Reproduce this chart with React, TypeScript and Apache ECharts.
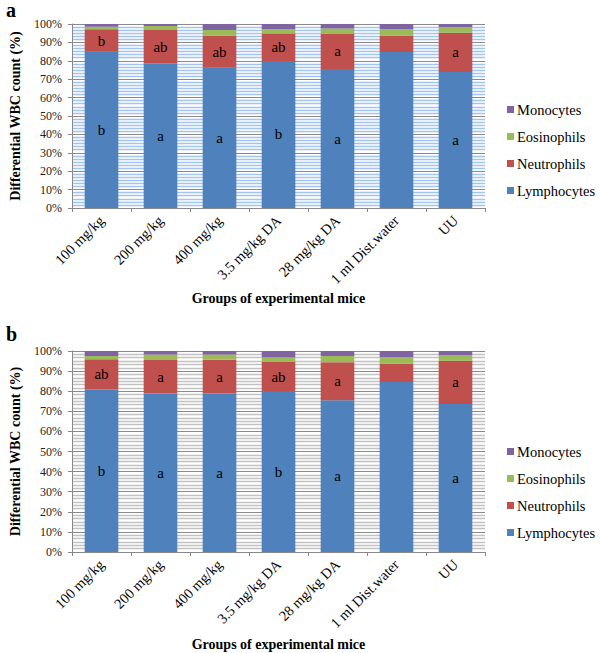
import React, { useEffect, useRef } from "react";
import * as echarts from "echarts";

const categories = ["100 mg/kg", "200 mg/kg", "400 mg/kg", "3.5 mg/kg DA", "28 mg/kg DA", "1 ml Dist.water", "UU"];
const legendOrder = ["Monocytes", "Eosinophils", "Neutrophils", "Lymphocytes"];
const yTickFormat = "{value}%";

// Panel a
const aLymph = [84.9, 78.6, 76.4, 79.9, 75.5, 84.8, 73.9];
const aNeutro = [12.2, 18.1, 17.2, 15.0, 19.2, 8.8, 21.4];
const aEos = [1.4, 2.2, 3.1, 2.2, 2.9, 3.5, 3.1];
const aMono = [1.5, 1.1, 3.3, 2.9, 2.4, 2.9, 1.6];
const aLymphLetters = ["b", "a", "a", "b", "a", "", "a"];
const aNeutroLetters = ["b", "ab", "ab", "ab", "a", "", "a"];

// Panel b
const bLymph = [80.9, 78.8, 78.8, 79.8, 75.5, 84.6, 73.6];
const bNeutro = [15.0, 16.7, 16.9, 14.7, 18.9, 9.1, 21.6];
const bEos = [1.6, 2.7, 2.5, 2.4, 3.1, 3.3, 2.8];
const bMono = [2.5, 1.8, 1.8, 3.1, 2.5, 3.0, 2.0];
const bLymphLetters = ["b", "a", "a", "b", "a", "", "a"];
const bNeutroLetters = ["ab", "a", "a", "ab", "a", "", "a"];

const colors: Record<string, string> = {
  Lymphocytes: "#4f81bd",
  Neutrophils: "#c0504d",
  Eosinophils: "#9bbb59",
  Monocytes: "#8064a2",
};

const FONT = "serif";

export default function App() {
  const ref = useRef<HTMLDivElement>(null);
  useEffect(() => {
    if (!ref.current) return;
    const chart = echarts.init(ref.current, undefined, { renderer: "svg" });

    const grids = [
      { left: 67, top: 24, width: 418, height: 184 },
      { left: 67, top: 351, width: 418, height: 201 },
    ];
    const stripeColors = ["#a4c4f0", "#c2c2c2"];

    const xAxes = [0, 1].map((i) => ({
      type: "category",
      gridIndex: i,
      data: categories,
      name: "Groups of experimental mice",
      nameLocation: "middle",
      nameGap: i === 0 ? 90 : 92,
      nameTextStyle: { fontFamily: FONT, fontWeight: "bold", fontSize: 14, color: "#000", verticalAlign: "middle" },
      axisLine: { show: true, lineStyle: { color: "#888", width: 1 } },
      axisTick: { show: true, length: 4, lineStyle: { color: "#888" } },
      axisLabel: { rotate: 45, fontFamily: FONT, fontSize: 14.5, color: "#000", margin: 10, interval: 0 },
    }));

    const yAxes = [0, 1].map((i) => ({
      type: "value",
      gridIndex: i,
      min: 0,
      max: 100,
      interval: 10,
      name: "Differential WBC count (%)",
      nameLocation: "middle",
      nameGap: 57,
      nameTextStyle: { fontFamily: FONT, fontWeight: "bold", fontSize: 14, color: "#000", verticalAlign: "middle" },
      axisLine: { show: true, lineStyle: { color: "#888", width: 1 } },
      axisTick: { show: true, length: 4, lineStyle: { color: "#888" } },
      axisLabel: { formatter: yTickFormat, fontFamily: FONT, fontSize: 12, color: "#222", margin: 10 },
      splitLine: { show: true, lineStyle: { color: "#8a8a8a", width: 1 } },
      minorTick: { show: false, splitNumber: 6 },
      minorSplitLine: { show: true, lineStyle: { color: stripeColors[i], width: 1.3 } },
    }));

    const mk = (name: string, data: number[], idx: number, letters?: string[]) => ({
      name,
      type: "bar",
      stack: "s" + idx,
      xAxisIndex: idx,
      yAxisIndex: idx,
      barWidth: "57%",
      data,
      itemStyle: { color: colors[name] },
      label: letters
        ? {
            show: true,
            position: "inside",
            formatter: (p: any) => letters[p.dataIndex],
            fontFamily: FONT,
            fontSize: 15,
            color: "#000",
          }
        : { show: false },
    });

    const series = [
      mk("Lymphocytes", aLymph, 0, aLymphLetters),
      mk("Neutrophils", aNeutro, 0, aNeutroLetters),
      mk("Eosinophils", aEos, 0),
      mk("Monocytes", aMono, 0),
      mk("Lymphocytes", bLymph, 1, bLymphLetters),
      mk("Neutrophils", bNeutro, 1, bNeutroLetters),
      mk("Eosinophils", bEos, 1),
      mk("Monocytes", bMono, 1),
    ];

    const legendCommon = {
      orient: "vertical",
      left: 502,
      data: legendOrder,
      icon: "rect",
      itemWidth: 7,
      itemHeight: 7,
      itemGap: 12,
      selectedMode: false,
      textStyle: { fontFamily: FONT, fontSize: 14.5, color: "#000", lineHeight: 15, padding: [0, 0, 0, -2] },
    };

    chart.setOption({
      animation: false,
      backgroundColor: "#fff",
      textStyle: { fontFamily: FONT },
      grid: grids,
      xAxis: xAxes,
      yAxis: yAxes,
      series,
      legend: [
        { ...legendCommon, top: 97 },
        { ...legendCommon, top: 439 },
      ],
      graphic: [
        { type: "text", left: 6, top: 0, style: { text: "a", fontFamily: FONT, fontWeight: "bold", fontSize: 20, fill: "#000" } },
        { type: "text", left: 6, top: 324, style: { text: "b", fontFamily: FONT, fontWeight: "bold", fontSize: 20, fill: "#000" } },
      ],
    });
    return () => chart.dispose();
  }, []);
  return <div ref={ref} style={{ position: "fixed", left: 0, top: 0, width: 600, height: 653 }} />;
}
